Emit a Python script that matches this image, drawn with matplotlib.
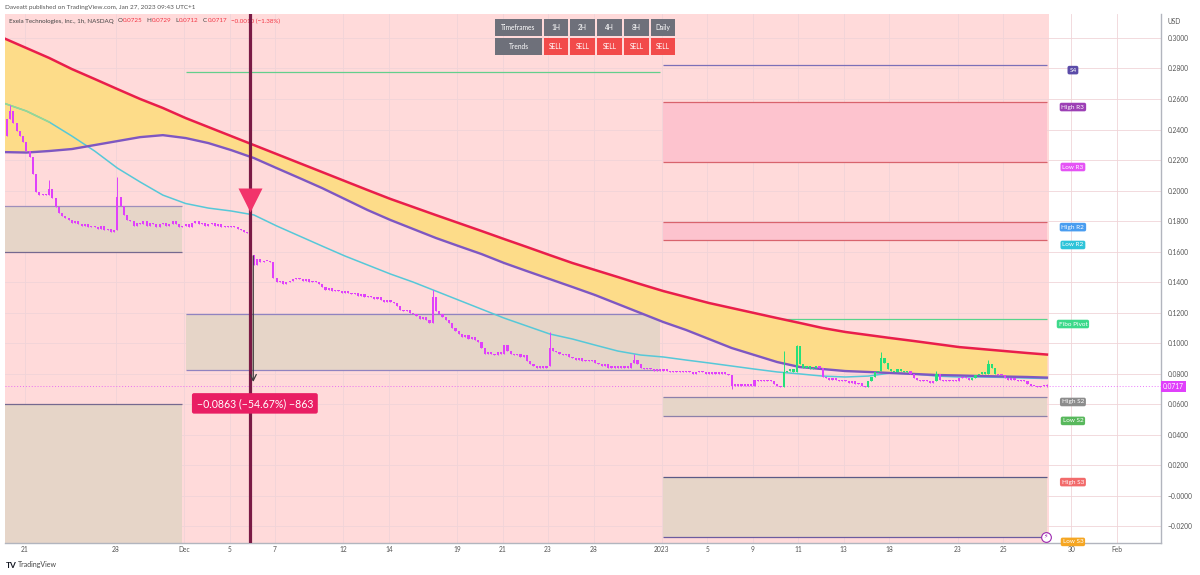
import numpy as np
import matplotlib
matplotlib.use("Agg")
import matplotlib.pyplot as plt
from matplotlib.patches import Rectangle
from matplotlib.transforms import blended_transform_factory

plt.rcParams['font.family'] = ['Lato', 'DejaVu Sans']

W, H = 1200, 575

# ---------------- data ----------------
# 1h bars, 7 per session, Nov 18 2022 -> Jan 26 2023
first_open = 0.231
closes = [
    0.236, 0.247, 0.252, 0.244, 0.239, 0.236, 0.232,   # Nov 18
    0.226, 0.222, 0.211, 0.199, 0.197, 0.198, 0.197,   # Nov 21
    0.201, 0.195, 0.189, 0.185, 0.183, 0.182, 0.181,
    0.179, 0.180, 0.178, 0.177, 0.178, 0.176, 0.177,
    0.176, 0.175, 0.177, 0.174, 0.175, 0.173, 0.174,
    0.196, 0.190, 0.184, 0.181, 0.180, 0.177, 0.179,   # Nov 28
    0.178, 0.180, 0.177, 0.179, 0.178, 0.176, 0.178,
    0.179, 0.177, 0.178, 0.180, 0.178, 0.176, 0.177,
    0.178, 0.176, 0.179, 0.180, 0.178, 0.179, 0.177,   # Dec 1
    0.178, 0.179, 0.177, 0.178, 0.176, 0.177, 0.176,
    0.177, 0.176, 0.175, 0.174, 0.173, 0.172, 0.158,   # Dec 5
    0.151, 0.155, 0.153, 0.154, 0.154, 0.153, 0.143,
    0.140, 0.141, 0.139, 0.140, 0.141, 0.142, 0.143,
    0.142, 0.141, 0.142, 0.140, 0.141, 0.140, 0.139,
    0.137, 0.135, 0.136, 0.134, 0.135, 0.134, 0.133,
    0.134, 0.133, 0.132, 0.133, 0.131, 0.132, 0.130,   # Dec 12
    0.131, 0.130, 0.129, 0.130, 0.128, 0.127, 0.128,
    0.127, 0.126, 0.124, 0.122, 0.121, 0.122, 0.120,
    0.119, 0.118, 0.116, 0.117, 0.115, 0.113, 0.130,
    0.121, 0.119, 0.117, 0.115, 0.113, 0.110, 0.108,
    0.106, 0.104, 0.105, 0.103, 0.104, 0.102, 0.101,   # Dec 19
    0.097, 0.093, 0.094, 0.093, 0.092, 0.094, 0.093,
    0.099, 0.095, 0.093, 0.092, 0.093, 0.091, 0.092,
    0.088, 0.086, 0.085, 0.084, 0.085, 0.084, 0.085,
    0.097, 0.095, 0.094, 0.093, 0.092, 0.093, 0.091,
    0.090, 0.089, 0.090, 0.088, 0.089, 0.088, 0.089,   # Dec 27
    0.087, 0.086, 0.085, 0.086, 0.084, 0.085, 0.084,
    0.085, 0.084, 0.085, 0.084, 0.087, 0.089, 0.086,
    0.084, 0.083, 0.084, 0.083, 0.082, 0.083, 0.082,
    0.083, 0.082, 0.081, 0.082, 0.081, 0.082, 0.081,   # Jan 3
    0.082, 0.081, 0.080, 0.081, 0.082, 0.081, 0.080,
    0.081, 0.080, 0.081, 0.080, 0.081, 0.080, 0.079,
    0.072, 0.073, 0.072, 0.073, 0.072, 0.073, 0.072,
    0.076, 0.075, 0.076, 0.075, 0.076, 0.075, 0.073,   # Jan 9
    0.072, 0.071, 0.081, 0.082, 0.083, 0.081, 0.098,
    0.086, 0.084, 0.085, 0.083, 0.084, 0.085, 0.084,
    0.078, 0.077, 0.076, 0.077, 0.076, 0.075, 0.076,
    0.075, 0.074, 0.075, 0.073, 0.074, 0.072, 0.071,
    0.075, 0.078, 0.081, 0.082, 0.090, 0.087, 0.083,   # Jan 17
    0.082, 0.081, 0.083, 0.082, 0.081, 0.082, 0.080,
    0.077, 0.076, 0.075, 0.076, 0.075, 0.074, 0.075,
    0.080, 0.076, 0.075, 0.076, 0.075, 0.076, 0.075,
    0.077, 0.078, 0.077, 0.076, 0.077, 0.079, 0.080,   # Jan 23
    0.081, 0.080, 0.086, 0.084, 0.080, 0.079, 0.079,
    0.077, 0.076, 0.077, 0.076, 0.075, 0.076, 0.075,
    0.073, 0.072, 0.072, 0.071, 0.072, 0.0725, 0.0717,
]
high_spikes = {2: 0.256, 14: 0.207, 35: 0.209, 132: 0.135, 168: 0.107, 194: 0.093,
               240: 0.095, 244: 0.099, 270: 0.094, 287: 0.082, 303: 0.089, 321: 0.0729}
low_spikes = {0: 0.229, 224: 0.070, 321: 0.0712}
green_bars = list(range(240, 251)) + list(range(266, 279)) + [287] + list(range(298, 306))

# moving averages, one value per session start (+ last bar)
ma_bars = list(range(0, 316, 7)) + [321]
ma_slow = [0.2999, 0.2934, 0.2869, 0.2796, 0.2731, 0.2665, 0.2600, 0.2541, 0.2475, 0.2416,
           0.2357, 0.2298, 0.2239, 0.2180, 0.2121, 0.2062, 0.2003, 0.1945, 0.1892, 0.1839,
           0.1787, 0.1735, 0.1682, 0.1630, 0.1577, 0.1525, 0.1479, 0.1433, 0.1386, 0.1341,
           0.1302, 0.1263, 0.1230, 0.1197, 0.1164, 0.1132, 0.1099, 0.1073, 0.1053, 0.1033,
           0.1014, 0.0994, 0.0974, 0.0961, 0.0948, 0.0935, 0.0925]
ma_mid = [0.2252, 0.2249, 0.2259, 0.2272, 0.2298, 0.2324, 0.2350, 0.2363, 0.2344, 0.2311,
          0.2265, 0.2213, 0.2147, 0.2082, 0.2016, 0.1944, 0.1872, 0.1807, 0.1748, 0.1689,
          0.1636, 0.1584, 0.1525, 0.1472, 0.1420, 0.1368, 0.1315, 0.1256, 0.1197, 0.1138,
          0.1086, 0.1027, 0.0968, 0.0922, 0.0876, 0.0843, 0.0830, 0.0817, 0.0811, 0.0804,
          0.0798, 0.0791, 0.0788, 0.0784, 0.0781, 0.0778, 0.0774]
ma_fast = [0.2573, 0.2521, 0.2449, 0.2357, 0.2259, 0.2147, 0.2056, 0.1970, 0.1915, 0.1885,
           0.1866, 0.1840, 0.1768, 0.1702, 0.1636, 0.1571, 0.1512, 0.1453, 0.1400, 0.1341,
           0.1282, 0.1223, 0.1164, 0.1112, 0.1060, 0.1027, 0.0987, 0.0948, 0.0922, 0.0909,
           0.0889, 0.0870, 0.0850, 0.0830, 0.0811, 0.0798, 0.0784, 0.0778, 0.0784, 0.0804,
           0.0798, 0.0784, 0.0778, 0.0778, 0.0775, 0.0771, 0.0768]

# monthly pivot zones (bar ranges) and levels
nov_span = (-2, 55)
dec_span = (56, 202)
jan_span = (203, 321)
nov_values = [0.1898, 0.1597, 0.0601]
dec_values = [0.2777, 0.1190, 0.0824]
jan_names = ['S4', 'High R3', 'Low R3', 'High R2', 'Low R2', 'Fibo Pivot',
             'High S2', 'Low S2', 'High S3', 'Low S3']
jan_values = [0.2822, 0.2580, 0.2187, 0.1793, 0.1676, 0.1158, 0.0647, 0.0523, 0.0122, -0.0270]

signal_bar = 76
measure_from, measure_to = 0.1590, 0.0727
measure_text = '\u22120.0863 (\u221254.67%) \u2212863'
last_price = 0.0717

header_symbol = 'Exela Technologies, Inc., 1h, NASDAQ'
ohlc_names = ['O', 'H', 'L', 'C']
ohlc_values = ['0.0725', '0.0729', '0.0712', '0.0717']
change_text = '\u22120.0010 (\u22121.38%)'

tick_days = [1, 5, 8, 10, 12, 15, 17, 20, 22, 24, 26, 29, 31, 33, 35, 37, 39, 42, 44, 47, 49]
tick_text = ['21', '28', 'Dec', '5', '7', '12', '14', '19', '21', '23', '28', '2023',
             '5', '9', '11', '13', '18', '23', '25', '30', 'Feb']
price_ticks = [0.30, 0.28, 0.26, 0.24, 0.22, 0.20, 0.18, 0.16, 0.14, 0.12, 0.10,
               0.08, 0.06, 0.04, 0.02, 0.0, -0.02]
price_text = ['0.3000', '0.2800', '0.2600', '0.2400', '0.2200', '0.2000', '0.1800',
              '0.1600', '0.1400', '0.1200', '0.1000', '0.0800', '0.0600', '0.0400',
              '0.0200', '\u22120.0000', '\u22120.0200']

tf_names = ['1H', '2H', '4H', '8H', 'Daily']
tf_trends = ['SELL', 'SELL', 'SELL', 'SELL', 'SELL']

# ---------------- figure ----------------
MAGENTA = '#E040FB'
GREEN = '#25E07A'
TAN = '#E6D5C8'
PINKBOX = '#FDC3CE'

fig = plt.figure(figsize=(W / 100, H / 100), dpi=100, facecolor='white')
ax = fig.add_axes([5 / W, 32 / H, 1156 / W, 529 / H])
ax.set_facecolor('white')

xl, xr = 0.42, 356.1
ax.set_xlim(xl, xr)
ax.set_ylim(-0.0310, 0.3157)

ax.axvspan(xl - 1, len(closes) - 0.5, color='#FFDADA', lw=0, zorder=0)

ax.set_axisbelow(True)
ax.grid(True, color='#F0D4D8', lw=0.6)


def band(span, v1, v2, color):
    ax.fill_between([span[0], span[1]], v1, v2, color=color, lw=0, zorder=1)


def level(span, v, color, lw=0.9):
    ax.hlines(v, span[0], span[1], colors=color, lw=lw, zorder=2)


# November zone
band(nov_span, nov_values[1], nov_values[0], TAN)
band(nov_span, -0.05, nov_values[2], TAN)
level(nov_span, nov_values[0], '#9E8FBB')
level(nov_span, nov_values[1], '#75698F')
level(nov_span, nov_values[2], '#75698F')

# December zone
band(dec_span, dec_values[2], dec_values[1], TAN)
level(dec_span, dec_values[0], '#63CF8C')
level(dec_span, dec_values[1], '#9183C0')
level(dec_span, dec_values[2], '#9183C0')

# January zone
jv = dict(zip(jan_names, jan_values))
band(jan_span, jv['Low R3'], jv['High R3'], PINKBOX)
band(jan_span, jv['Low R2'], jv['High R2'], PINKBOX)
band(jan_span, jv['Low S2'], jv['High S2'], TAN)
band(jan_span, jv['Low S3'], jv['High S3'], TAN)
line_cols = ['#7B70B8', '#D8636D', '#D8636D', '#D8636D', '#D8636D', '#58D48C',
             '#8C80AA', '#8C80AA', '#5B5A86', '#6C5CA0']
for v, col in zip(jan_values, line_cols):
    level(jan_span, v, col)

label_cols = ['#5B4BA8', '#9C3FB5', '#E552F5', '#4A9DF0', '#2EC4D9', '#3CD98A',
              '#8C8C8C', '#58B85C', '#F26B6B', '#F5A623']
for name, v, col in zip(jan_names, jan_values, label_cols):
    lab = ax.annotate(name, (329, v), xytext=(0, -3.6), textcoords='offset points',
                      ha='center', va='center', fontsize=4.6, color='white', zorder=9,
                      bbox=dict(boxstyle='round,pad=0.28', fc=col, ec='none'))
    lab.set_clip_on(True)

# moving averages + cloud
ax.fill_between(ma_bars, ma_slow, ma_mid, color='#FDDC89', lw=0, zorder=2)
ax.plot(ma_bars, ma_fast, color='#56C8D8', lw=1.1, zorder=3)
ax.plot(ma_bars[:3], ma_fast[:3], color='#9AD88F', lw=1.1, zorder=3)
ax.plot(ma_bars, ma_mid, color='#7E57C2', lw=1.7, zorder=3)
ax.plot(ma_bars, ma_slow, color='#E91E4B', lw=1.8, zorder=3)

# candles
c = np.array(closes)
o = np.r_[first_open, c[:-1]]
x = np.arange(len(c))
hi = np.maximum(o, c)
lo = np.minimum(o, c)
for k, v in high_spikes.items():
    hi[k] = max(hi[k], v)
for k, v in low_spikes.items():
    lo[k] = min(lo[k], v)
cols = np.where(np.isin(x, green_bars), GREEN, MAGENTA)
ax.vlines(x, lo, hi, colors=cols, lw=0.7, zorder=5)
body = np.maximum(np.abs(c - o), 0.0007)
ax.bar(x, body, bottom=np.minimum(o, c), width=0.68, color=cols, lw=0, zorder=5)

ax.axhline(last_price, color=MAGENTA, ls=(0, (1, 2)), lw=0.7, alpha=0.7, zorder=4)

# signal marker and measurement
ax.axvline(signal_bar - 0.3, color='#7A1A45', lw=2.3, zorder=7)
ax.plot([signal_bar - 0.3], [0.1935], marker='v', ms=17, color='#F2346B', mec='none', zorder=8)
ax.annotate('', xy=(signal_bar + 0.8, measure_to), xytext=(signal_bar + 0.8, measure_from),
            arrowprops=dict(arrowstyle='->', color='#3A3A3A', lw=0.9, mutation_scale=11),
            zorder=8)
ax.text(signal_bar + 1.3, 0.0605, measure_text, ha='center', va='center', fontsize=7.6,
        color='white', zorder=9,
        bbox=dict(boxstyle='round,pad=0.45,rounding_size=0.2', fc='#E91E63', ec='none'))

# lightning icon
ax.plot([320.7], [-0.0268], marker='o', ms=7, mfc='white', mec='#9C27B0', mew=0.8, zorder=9)
ax.text(320.7, -0.0268, '\u26a1', ha='center', va='center', fontsize=4.5,
        color='#9C27B0', zorder=10, family='DejaVu Sans')

# axes styling
ax.set_xticks([d * 7 - 0.5 for d in tick_days])
ax.set_xticklabels(tick_text)
ax.yaxis.tick_right()
ax.set_yticks(price_ticks)
ax.set_yticklabels(price_text)
ax.tick_params(axis='both', length=0, labelsize=4.8, labelcolor='#555555')
ax.tick_params(axis='x', pad=2.5)
ax.tick_params(axis='y', pad=5)
for s in ['top', 'left']:
    ax.spines[s].set_visible(False)
for s in ['right', 'bottom']:
    ax.spines[s].set_color('#B2B5BE')
    ax.spines[s].set_linewidth(1.0)

trans = blended_transform_factory(ax.transAxes, ax.transData)
ax.text(1.0015, last_price, '0.0717', transform=trans, ha='left', va='center',
        fontsize=4.8, color='white', zorder=10, clip_on=False,
        bbox=dict(boxstyle='square,pad=0.3', fc=MAGENTA, ec='none'))


def ftext(px, py, s, **kw):
    return fig.text(px / W, 1 - py / H, s, **kw)


ftext(1167, 21, 'USD', fontsize=4.8, color='#555555', va='center')

# header lines
ftext(5, 7, 'Daveatt published on TradingView.com, Jan 27, 2023 09:43 UTC+1',
      fontsize=4.6, color='#555555', va='center')
prev = ftext(9, 21, header_symbol, fontsize=4.5, color='#444444', va='center', zorder=6)
pieces = []
for nm, val in zip(ohlc_names, ohlc_values):
    pieces += [(nm, '#444444', 3.0), (val, '#F23645', 0.2)]
pieces.append((change_text, '#F23645', 3.0))
for txt, col, gap in pieces:
    prev = ax.annotate(txt, xy=(1, 0.5), xycoords=prev, xytext=(gap, 0),
                       textcoords='offset points', ha='left', va='center',
                       fontsize=4.5, color=col, zorder=6)

# timeframe table
col_x = [(495, 542), (544, 568), (570, 595), (597, 622), (624, 649), (651, 675)]
rows = [(19, 36, ['Timeframes'] + tf_names, ['#6E707A'] * 6),
        (38, 55, ['Trends'] + tf_trends, ['#6E707A'] + ['#F24A4A'] * 5)]
for y0, y1, texts, fills in rows:
    for (x0, x1), t, fc in zip(col_x, texts, fills):
        fig.add_artist(Rectangle((x0 / W, 1 - y1 / H), (x1 - x0) / W, (y1 - y0) / H,
                                 transform=fig.transFigure, fc=fc, ec='none', zorder=10))
        ftext((x0 + x1) / 2, (y0 + y1) / 2, t, fontsize=4.8, color='white',
              ha='center', va='center', zorder=11)

# footer logo
ftext(6, 565, 'TV', fontsize=6, color='#131722', weight='bold', va='center')
ftext(18, 565, 'TradingView', fontsize=5, color='#444444', va='center')

fig.savefig('out.png', dpi=100)
